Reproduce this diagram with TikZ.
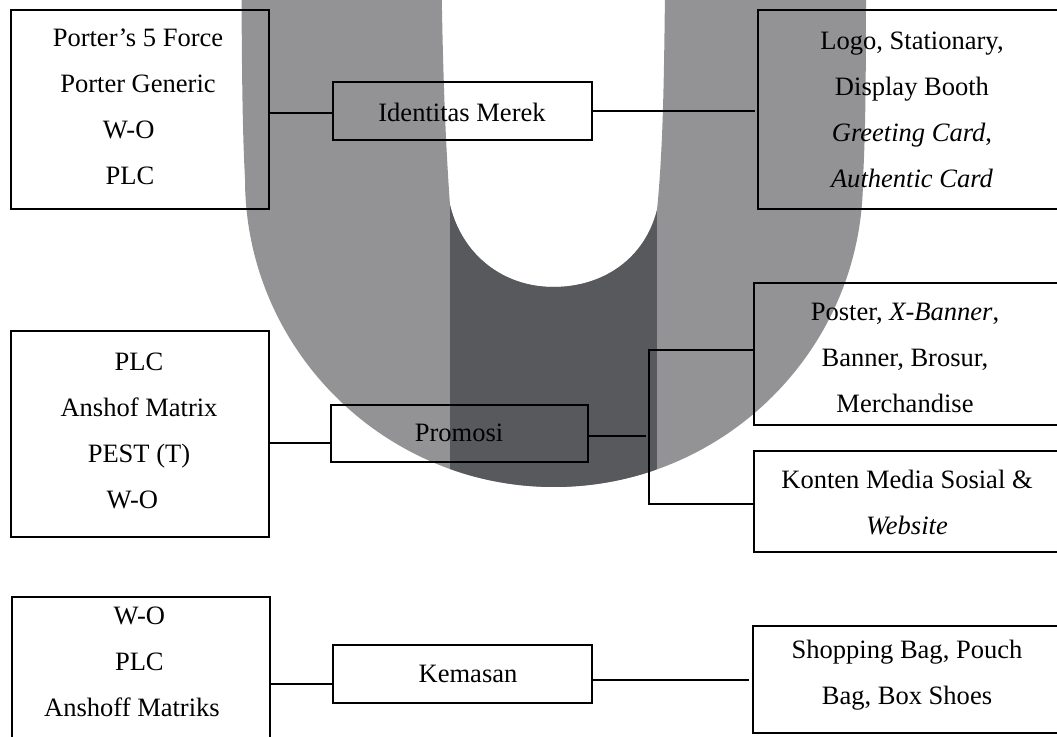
\documentclass[tikz,border=0pt]{standalone}
\usepackage{fontspec}
\setmainfont{Liberation Serif}
\definecolor{ugray}{HTML}{939395}
\definecolor{udark}{HTML}{58595D}
\tikzset{
  x=0.75pt,y=-0.75pt,
  boxn/.style={draw=black,line width=1.5pt,inner sep=0pt,outer sep=0pt,rectangle},
  txt/.style={inner sep=0pt,outer sep=0pt,align=center,font=\fontsize{19.9}{34.5}\selectfont},
  wire/.style={draw=black,line width=1.5pt}
}
\newcommand{\ushape}{(241.5,-8) .. controls (242,100) and (243,140) .. (245,179)
  .. controls (245,349) and (384,487) .. (554,487)
  .. controls (724,487) and (863,349) .. (863,179)
  .. controls (865,140) and (866,100) .. (866,-8)
  -- (665,-8) .. controls (664,80) and (663,150) .. (657,210)
  .. controls (645,258) and (604,287) .. (553.5,287)
  .. controls (503,287) and (462,255) .. (450,205)
  .. controls (446,150) and (443,80) .. (441.7,-8) -- cycle}
\begin{document}
\begin{tikzpicture}
\clip (0,0) rectangle (1057,737);
\fill[ugray] \ushape;
\begin{scope}
  \clip \ushape;
  \fill[udark] (450,180) rectangle (657,500);
\end{scope}
% boxes
\node[boxn,minimum width=257.5*.75pt,minimum height=198.5*.75pt] (porter) at (139.75,109.75) {};
\node[boxn,minimum width=257.5*.75pt,minimum height=206*.75pt] (plc) at (139.75,434) {};
\node[boxn,minimum width=258*.75pt,minimum height=200*.75pt] (wo) at (141,697.5) {};
\node[boxn,minimum width=259*.75pt,minimum height=57.5*.75pt] (ident) at (462.5,111.25) {};
\node[boxn,minimum width=257*.75pt,minimum height=56.7*.75pt] (promo) at (459.5,433.35) {};
\node[boxn,minimum width=259*.75pt,minimum height=58*.75pt] (kemas) at (462.5,674) {};
\node[boxn,minimum width=320*.75pt,minimum height=198.5*.75pt] (logo) at (918,109.75) {};
\node[boxn,minimum width=320*.75pt,minimum height=142.5*.75pt] (poster) at (913.5,354.25) {};
\node[boxn,minimum width=320*.75pt,minimum height=101*.75pt] (konten) at (913.5,501.5) {};
\node[boxn,minimum width=320*.75pt,minimum height=107*.75pt] (shop) at (913,679.5) {};
% text
\node[txt] (tporter) at (138,107) {Porter’s 5 Force\\Porter Generic\\\hspace*{-14pt}W-O\\\hspace*{-12pt}PLC};
\node[txt] (tplc) at (139,431) {PLC\\Anshof Matrix\\PEST (T)\\\hspace*{-10pt}W-O};
\node[txt] (two) at (132,662) {\hspace*{11pt}W-O\\\hspace*{11pt}PLC\\Anshoff Matriks};
\node[txt] (tident) at (462,112) {Identitas Merek};
\node[txt] (tpromo) at (459,433) {Promosi};
\node[txt] (tkemas) at (468,674) {Kemasan};
\node[txt] (tlogo) at (912,110) {Logo, Stationary,\\Display Booth\\\textit{Greeting Card},\\\textit{Authentic Card}};
\node[txt] (tposter) at (905,358) {Poster, \textit{X-Banner},\\Banner, Brosur,\\Merchandise};
\node[txt] (tkonten) at (907,502) {Konten Media Sosial \&\\\textit{Website}};
\node[txt] (tshop) at (907,675) {Shopping Bag, Pouch\\Bag, Box Shoes};
% connector levels
\coordinate (l1) at (300,113.5);
\coordinate (r1) at (755,111);
\coordinate (l2) at (300,443);
\coordinate (l3) at (300,684);
\coordinate (r3) at (749,680);
\coordinate (j0) at (646,436);
\coordinate (jt) at (648.5,350);
\coordinate (jb) at (648.5,504);
\draw[wire] (porter.east |- l1) -- (ident.west |- l1);
\draw[wire] (ident.east |- r1) -- (r1);
\draw[wire] (plc.east |- l2) -- (promo.west |- l2);
\draw[wire] (wo.east |- l3) -- (kemas.west |- l3);
\draw[wire] (kemas.east |- r3) -- (r3);
\draw[wire] (promo.east |- j0) -- (j0);
\draw[wire] (poster.west |- jt) -- (jt) -- (jb) -- (konten.west |- jb);
\end{tikzpicture}
\end{document}
